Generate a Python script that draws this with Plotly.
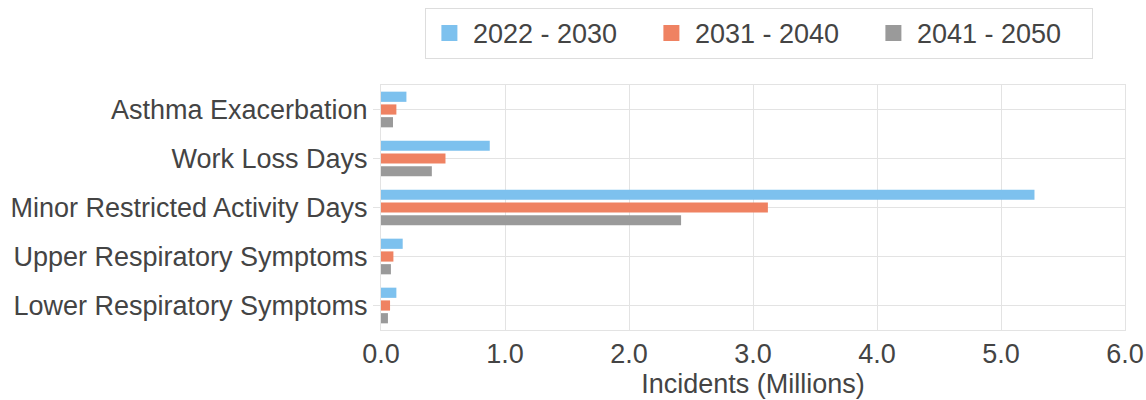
import plotly.graph_objects as go

categories = [
    "Asthma Exacerbation",
    "Work Loss Days",
    "Minor Restricted Activity Days",
    "Upper Respiratory Symptoms",
    "Lower Respiratory Symptoms",
]
series_names = ["2022 - 2030", "2031 - 2040", "2041 - 2050"]
values_2022_2030 = [0.205, 0.877, 5.27, 0.175, 0.124]
values_2031_2040 = [0.124, 0.52, 3.12, 0.10, 0.073]
values_2041_2050 = [0.097, 0.41, 2.42, 0.08, 0.056]
x_ticks = [0, 1, 2, 3, 4, 5, 6]
x_tick_labels = ["0.0", "1.0", "2.0", "3.0", "4.0", "5.0", "6.0"]

colors = ["#7dc1ee", "#ef8262", "#9a9a9a"]
font_family = "Liberation Sans, Arial, sans-serif"
text_color = "#444444"
grid_color = "#e3e3e3"
fsize = 27

fig = go.Figure()
for name, vals, col in zip(series_names,
                           [values_2022_2030, values_2031_2040, values_2041_2050],
                           colors):
    fig.add_trace(go.Bar(
        y=categories, x=vals, name=name, orientation="h",
        marker=dict(color=col, line=dict(width=0)),
        showlegend=False,
    ))
# legend-only entries with larger square symbols
for name, col in zip(series_names, colors):
    fig.add_trace(go.Scatter(
        x=[None], y=[None], mode="markers", name=name,
        marker=dict(symbol="square", size=16, color=col),
        showlegend=True, hoverinfo="skip",
    ))

fig.update_layout(
    width=1146, height=400,
    margin=dict(l=381, r=21, t=85, b=70, autoexpand=False),
    paper_bgcolor="white", plot_bgcolor="white",
    barmode="group", bargap=0.22, bargroupgap=0.2,
    font=dict(family=font_family, size=fsize, color=text_color),
    legend=dict(
        orientation="h", x=0.059, xanchor="left", y=1.315, yanchor="top",
        bordercolor="#dddddd", borderwidth=1,
        font=dict(size=fsize, color=text_color),
        entrywidth=170, entrywidthmode="pixels", itemwidth=37,
        traceorder="normal", itemsizing="trace",
    ),
    xaxis=dict(
        range=[0, 6], tickvals=x_ticks, ticktext=x_tick_labels,
        showgrid=True, gridcolor=grid_color, gridwidth=1,
        showline=True, linecolor=grid_color, linewidth=1, mirror=True,
        zeroline=False, ticks="", automargin=False,
        title=dict(text="Incidents (Millions)", standoff=4,
                   font=dict(size=fsize, color=text_color)),
        tickfont=dict(size=fsize, color=text_color),
    ),
    yaxis=dict(
        autorange="reversed", categoryorder="array", categoryarray=categories,
        showgrid=True, gridcolor=grid_color, gridwidth=1,
        showline=True, linecolor=grid_color, linewidth=1, mirror=True,
        ticks="outside", ticklen=7, tickcolor=grid_color, automargin=False,
        tickfont=dict(size=fsize, color=text_color),
    ),
)

fig.write_html("out.html",
               config={"displayModeBar": False},
               post_script="document.body.style.margin='0';document.body.style.padding='0';")
